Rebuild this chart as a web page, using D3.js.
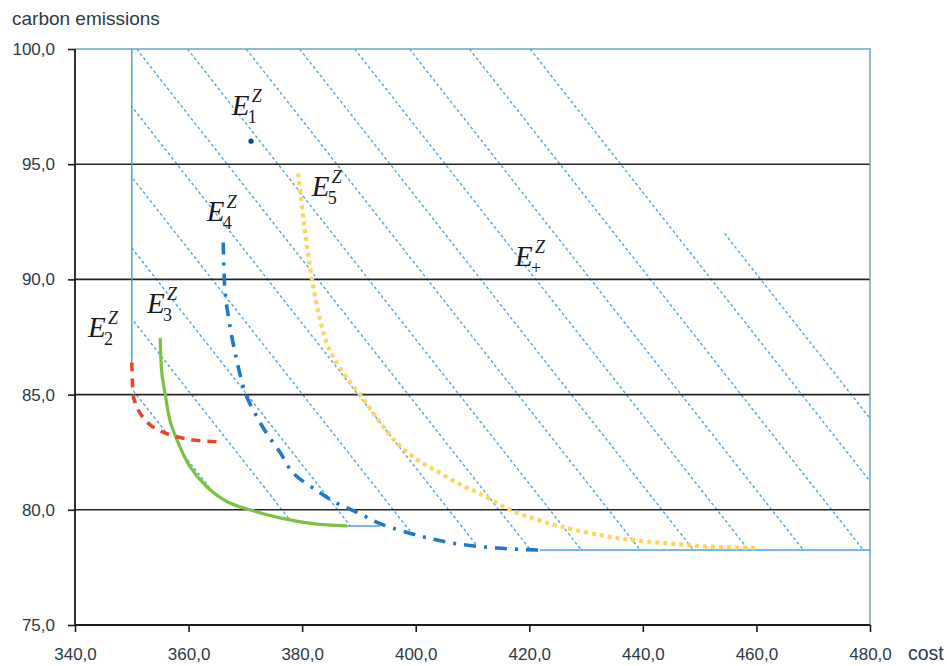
<!DOCTYPE html>
<html><head><meta charset="utf-8">
<script src="https://cdn.jsdelivr.net/npm/d3@7"></script>
<style>body{margin:0;background:#fff}svg{display:block}</style>
</head><body>
<svg id="c" width="947" height="666"></svg>
<script>
// ---- data (cost, carbon emissions) ----
const xTicks = [340,360,380,400,420,440,460,480];
const yTicks = [75,80,85,90,95,100];
const gridY = [80,85,90,95];
const e1 = [[371.0,96.0]];
const e2 = [[350.0,86.4],[350.1,85.6],[350.3,84.9],[351.0,84.4],[352.0,84.0],[353.7,83.6],[356.2,83.3],[360.3,83.05],[365.2,82.95]];
const e3 = [[355.0,87.45],[355.3,85.9],[355.9,85.0],[356.7,83.9],[358.0,83.0],[360.3,81.85],[363.2,81.0],[366.8,80.35],[370.8,80.0],[376.1,79.65],[381.9,79.4],[387.9,79.3]];
const e4 = [[366.1,91.6],[366.4,89.55],[366.9,88.55],[368.2,86.8],[370.1,85.0],[371.9,84.1],[373.8,83.3],[376.1,82.5],[378.4,81.6],[382.8,80.8],[386.0,80.3],[388.7,80.0],[391.2,79.7],[393.7,79.4],[400.2,78.9],[406.6,78.55],[414.3,78.34],[421.9,78.25]];
const e5 = [[379.3,94.6],[380.5,92.1],[381.7,90.05],[383.2,88.2],[384.9,86.9],[387.5,85.85],[390.2,85.0],[393.4,83.9],[396.7,82.9],[400.4,82.15],[404.3,81.6],[407.8,81.1],[411.3,80.7],[416.6,80.0],[421.0,79.6],[425.9,79.25],[432.5,78.9],[437.7,78.7],[446.5,78.5],[451.8,78.4],[460.1,78.35]];
// hatch lines of the dominated region E+ : cost where each line meets emissions = 95
const hatchCost95 = [309.2,318.9,328.6,338.4,348.2,357.96,366.8,375.75,386.1,395.5,405.2,414.85,425.4,436.1,444.8];
// highest emission value at which each hatch line begins
const hatchTop = [100,100,100,100,100,100,100,100,100,100,100,100,100,100,92.0];
const hatchSlope = 3.19; // cost per unit of emissions
const labelSubs = ["1","2","3","4","5","+"];
const labelCost = [367.6,342.3,352.7,363.2,381.7,417.5];
const labelEmis = [97.14,87.5,88.54,92.55,93.6,90.6];

const svg = d3.select("#c");
const x = d3.scaleLinear().domain([340,480]).range([75,870]);
const y = d3.scaleLinear().domain([75,100]).range([625,49]);
const fmt = v => d3.format(".1f")(v).replace(".", ",");

// clip: union of the dominated regions of each front
const defs = svg.append("defs");
const clip = defs.append("clipPath").attr("id","region");
[e1,e2,e3,e4,e5].forEach(f => {
  const pts = f.map(d => [x(d[0]), y(d[1])]);
  const last = f[f.length-1], first = f[0];
  pts.push([x(480), y(last[1])], [x(480), y(100)], [x(first[0]), y(100)]);
  clip.append("path").attr("d", "M" + pts.map(p => p.join(",")).join("L") + "Z");
});

// hatch lines
svg.append("g").attr("clip-path","url(#region)")
  .selectAll("line").data(hatchCost95).join("line")
  .attr("x1", (c,i) => x(c + (95-hatchTop[i])*hatchSlope)).attr("y1", (c,i) => y(hatchTop[i]))
  .attr("x2", c => x(c + (95-75)*hatchSlope)).attr("y2", y(75))
  .attr("stroke","#4fa8e2").attr("stroke-width",1.4).attr("stroke-dasharray","3,2.5");

// gridlines
svg.append("g").selectAll("line").data(gridY).join("line")
  .attr("x1", x(340)).attr("x2", x(480)).attr("y1", d=>y(d)).attr("y2", d=>y(d))
  .attr("stroke","#262626").attr("stroke-width",1.6);

// frame top & right
svg.append("path")
  .attr("d", `M${x(340)},${y(100)}H${x(480)}V${y(75)}`)
  .attr("fill","none").attr("stroke","#6aa7c4").attr("stroke-width",1.5);

// region boundary lines
const blue = "#4aa3e0";
svg.append("line").attr("x1",x(e2[0][0])).attr("x2",x(e2[0][0])).attr("y1",y(100)).attr("y2",y(e2[0][1]))
  .attr("stroke",blue).attr("stroke-width",1.5);
svg.append("line").attr("x1",x(e3[e3.length-1][0])).attr("x2",x(e4[13][0])).attr("y1",y(e3[e3.length-1][1])).attr("y2",y(e3[e3.length-1][1]))
  .attr("stroke",blue).attr("stroke-width",1.5);
svg.append("line").attr("x1",x(e4[e4.length-1][0])).attr("x2",x(480)).attr("y1",y(e4[e4.length-1][1])).attr("y2",y(e4[e4.length-1][1]))
  .attr("stroke",blue).attr("stroke-width",1.5);

// axes
const ax = svg.append("g").attr("transform",`translate(0,${y(75)})`)
  .call(d3.axisBottom(x).tickValues(xTicks).tickFormat(fmt).tickSize(7).tickPadding(16));
const ay = svg.append("g").attr("transform",`translate(${x(340)},0)`)
  .call(d3.axisLeft(y).tickValues(yTicks).tickFormat(fmt).tickSize(7).tickPadding(13));
[ax,ay].forEach(a => {
  a.select(".domain").attr("stroke","#1a1a1a").attr("stroke-width",1.8);
  a.selectAll(".tick line").attr("stroke","#1a1a1a").attr("stroke-width",1.6);
  a.selectAll("text").attr("font-family","'Liberation Sans', Arial, sans-serif").attr("font-size",17).attr("fill","#2d3a48");
});
ax.select(".domain").attr("d", `M${x(340)},0H${x(480)}`);
ay.select(".domain").attr("d", `M0,${y(100)}V${y(75)}`);

svg.append("text").text("carbon emissions").attr("x",12).attr("y",25)
  .attr("font-family","'Liberation Sans', Arial, sans-serif").attr("font-size",19).attr("fill","#2d3a48");
svg.append("text").text("cost").attr("x",908).attr("y",660)
  .attr("font-family","'Liberation Sans', Arial, sans-serif").attr("font-size",19.5).attr("fill","#2d3a48");

// fronts
const lineY = d3.line().x(d=>x(d[0])).y(d=>y(d[1])).curve(d3.curveCatmullRom);
svg.append("path").datum(e5).attr("d",lineY).attr("fill","none").attr("stroke","#fdd45e").attr("stroke-width",4.2).attr("stroke-dasharray","4,4");
svg.append("path").datum(e4).attr("d",lineY).attr("fill","none").attr("stroke","#1f78c8").attr("stroke-width",3.6).attr("stroke-dasharray","12,8,3,8");
svg.append("path").datum(e3).attr("d",lineY).attr("fill","none").attr("stroke","#7cc142").attr("stroke-width",3.2);
svg.append("path").datum(e2).attr("d",lineY).attr("fill","none").attr("stroke","#e8452e").attr("stroke-width",3.6).attr("stroke-dasharray","9,7");
svg.append("g").selectAll("circle").data(e1).join("circle")
  .attr("cx",d=>x(d[0])).attr("cy",d=>y(d[1])).attr("r",2.6).attr("fill","#16469a");

// labels E^Z_k
const serif = "'Liberation Serif','Times New Roman',serif";
const lab = svg.append("g").selectAll("text").data(labelSubs).join("text")
  .attr("transform", (d,i) => `translate(${x(labelCost[i])},${y(labelEmis[i])})`)
  .attr("font-family", serif).attr("fill","#1a1a1a");
lab.append("tspan").text("E").attr("x",0).attr("y",0).attr("font-style","italic").attr("font-size",29);
lab.append("tspan").text("Z").attr("x",20).attr("y",-13).attr("font-style","italic").attr("font-size",18);
lab.append("tspan").text(d=>d).attr("x",16).attr("y",8).attr("font-size",18);
</script>
</body></html>
